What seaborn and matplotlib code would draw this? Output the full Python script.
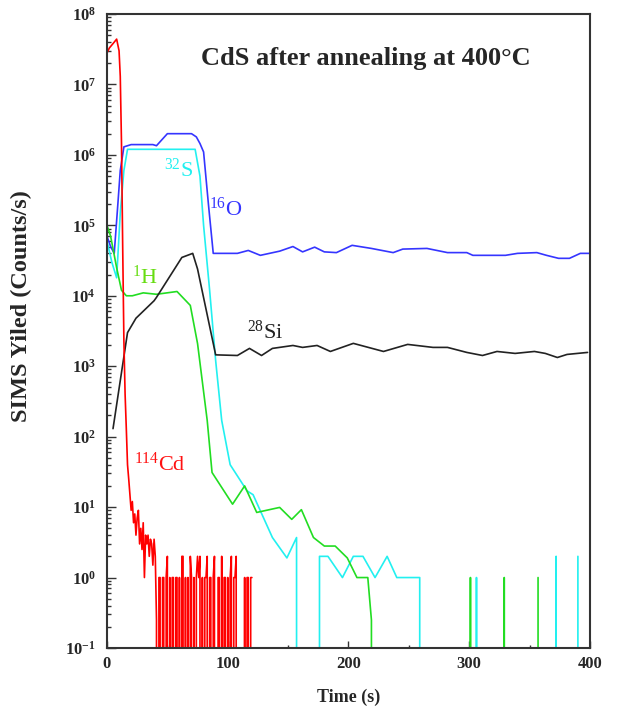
import numpy as np
import pandas as pd
import matplotlib
matplotlib.use("Agg")
import matplotlib.pyplot as plt
import seaborn as sns
from matplotlib.ticker import LogLocator, NullFormatter

# 16O
o_time = [0, 3, 6, 9, 11, 14, 20, 30, 38, 41, 50, 70, 74, 77, 80, 84, 88, 108, 117,
          127, 143, 154, 162, 172, 180, 190, 203, 219, 237, 245, 265, 282, 298, 303,
          330, 340, 356, 364, 374, 383, 392, 400]
o_counts = [7e4, 5e4, 4e4, 2e5, 6e5, 1.3e6, 1.4e6, 1.4e6, 1.4e6, 1.35e6, 2.0e6, 2.0e6,
            1.8e6, 1.45e6, 1.1e6, 2e5, 4.0e4, 4.0e4, 4.4e4, 3.75e4, 4.3e4, 5.0e4, 4.2e4,
            4.9e4, 4.2e4, 4.1e4, 5.2e4, 4.7e4, 4.1e4, 4.6e4, 4.7e4, 4.1e4, 4.1e4, 3.75e4,
            3.75e4, 4.0e4, 4.1e4, 3.75e4, 3.4e4, 3.4e4, 4.0e4, 4.0e4]

# 32S
s_time = [0, 4, 8, 11, 14, 17, 40, 73, 77, 80, 85, 90, 95, 102, 116, 121, 137, 149, 157,
          161, 172, 176, 183, 195, 204, 212, 222, 232, 240, 259, 262, 304, 306, 310,
          368, 372, 375, 387, 390]
s_counts = [6e4, 3e4, 1.8e4, 1.5e5, 6e5, 1.2e6, 1.2e6, 1.2e6, 5e5, 1e5, 1.2e4, 1.2e3, 170,
            40, 17, 15, 3.7, 1.9, 3.7, 0, 0, 2, 2, 1, 2, 2, 1, 2, 1, 1, 0, 0, 1, 0,
            0, 2, 0, 0, 2]

# 1H
h_time = [0, 3, 8, 12, 16, 21, 30, 41, 58, 69, 75, 83, 87, 104, 114, 124, 143, 153, 161,
          171, 180, 189, 199, 207, 216, 219, 221, 298, 301, 304, 326, 329, 332, 354, 357]
h_counts = [1e5, 7e4, 2.5e4, 1.2e4, 1.0e4, 1.0e4, 1.1e4, 1.05e4, 1.15e4, 7.3e3, 2.1e3, 170,
            31, 11, 20, 8.4, 9.9, 6.7, 9.2, 3.7, 2.8, 2.8, 1.9, 1.0, 1.0, 0.25, 0,
            0, 1, 0, 0, 1, 0, 0, 1]

# 28Si
si_time = [5, 17, 24, 39, 41, 62, 71, 75, 90, 108, 118, 128, 137, 154, 162, 174, 185,
           204, 229, 249, 270, 282, 298, 311, 323, 338, 354, 363, 373, 381, 398]
si_counts = [130, 3000, 4800, 8500, 9500, 3.5e4, 4.0e4, 2.4e4, 1450, 1420, 1790, 1420,
             1790, 1970, 1850, 1970, 1620, 2110, 1620, 2040, 1850, 1850, 1570, 1420, 1620,
             1520, 1620, 1520, 1330, 1470, 1570]

# 114Cd
cd_time = [0, 2, 5, 8, 10, 11, 12, 13, 14, 15,
           16, 17, 18, 19, 20, 21, 22, 23, 24, 25, 26, 27, 28, 29, 30, 31, 32, 33, 34, 35,
           36, 37, 38, 39, 40, 41, 42, 43, 44, 45, 46, 47, 48, 49, 50, 51, 52, 53, 54, 55,
           56, 57, 58, 59, 60, 61, 62, 63, 64, 65, 66, 67, 68, 69, 70, 71, 72, 73, 74, 75,
           76, 77, 78, 79, 80, 81, 82, 83, 84, 85, 86, 87, 88, 89, 90, 91, 92, 93, 94, 95,
           96, 97, 98, 99, 100, 101, 102, 103, 104, 105, 106, 107, 108, 109, 110, 111, 112,
           113, 114, 115, 116, 117, 118, 119, 120]
cd_counts = [2.8e7, 3.3e7, 3.8e7, 4.4e7, 3.0e7, 1.3e7, 1.5e6, 5e4, 2.3e3, 400,
             130, 40, 25, 15, 9, 12, 6, 8, 4, 7, 9, 3, 5, 2.5, 6, 1, 4, 3, 4, 2,
             3.5, 3, 1.5, 3.5, 2, 0.25, 0, 1, 1, 0, 1, 1, 0, 1, 2, 0, 1, 0, 1, 1,
             0, 1, 1, 0, 1, 0, 2, 2, 0, 1, 0, 1, 0, 2, 1, 0, 1, 0, 1, 2,
             1, 2, 0, 1, 0, 1, 1, 2, 0, 1, 1, 0, 1, 2, 0, 0, 1, 1, 0, 2,
             0, 1, 1, 0, 1, 0, 1, 2, 0, 1, 1, 2, 0, 0, 0, 0, 0,
             0, 1, 0, 1, 1, 0, 1, 1]

decades = [-1, 0, 1, 2, 3, 4, 5, 6, 7, 8]
x_ticks = [0, 100, 200, 300, 400]

sns.set_theme(style="white")
plt.rcParams["font.family"] = ["Liberation Serif", "DejaVu Serif"]
plt.rcParams["mathtext.fontset"] = "custom"
plt.rcParams["mathtext.rm"] = "Liberation Serif"
plt.rcParams["mathtext.it"] = "Liberation Serif:italic"
plt.rcParams["mathtext.bf"] = "Liberation Serif:bold"

fig = plt.figure(figsize=(6.17, 7.18), dpi=100)
ax = fig.add_axes([0.1734, 0.0975, 0.7828, 0.883])

series = [
    (o_time, o_counts, "#3535ff"),
    (s_time, s_counts, "#22f0f0"),
    (h_time, h_counts, "#22dd22"),
    (si_time, si_counts, "#222222"),
    (cd_time, cd_counts, "#ff0000"),
]
for t, c, col in series:
    df = pd.DataFrame({"Time": t, "Counts": c})
    sns.lineplot(data=df, x="Time", y="Counts", color=col, lw=1.2,
                 estimator=None, sort=False, ax=ax)

ax.set_yscale("log")
ax.set_ylim(1e-1, 1e8)
ax.set_xlim(0, 400)

ax.set_yticks([10.0 ** e for e in decades],
              labels=[r"$\mathbf{10^{%d}}$" % e for e in decades], fontsize=12)
ax.yaxis.set_minor_locator(LogLocator(base=10, subs=np.arange(2, 10), numticks=20))
ax.yaxis.set_minor_formatter(NullFormatter())
ax.set_xticks(x_ticks, labels=[str(v) for v in x_ticks], fontsize=12, fontweight="bold")
ax.set_xticks([50, 150, 250, 350], minor=True)

ax.tick_params(axis="both", which="both", direction="in", top=False, right=False,
               left=True, bottom=True, color="#333333", width=1)
ax.tick_params(axis="y", which="major", length=6.5, pad=8)
ax.tick_params(axis="y", which="minor", length=3.2)
ax.tick_params(axis="x", which="major", length=5, pad=6)
ax.tick_params(axis="x", which="minor", length=2.2)
for sp in ax.spines.values():
    sp.set_linewidth(1.5)
    sp.set_color("#333333")

ax.set_xlabel("Time (s)", fontsize=13, fontweight="bold", labelpad=12)
ax.set_ylabel("SIMS Yiled (Counts/s)", fontsize=17.5, fontweight="bold")
ax.yaxis.set_label_coords(-0.155, 0.54)

ax.text(214, 2.3e7, "CdS after annealing at 400°C", fontsize=19, fontweight="bold",
        ha="center", va="center")
ax.text(59, 6e5, r"$^{32}$S", color="#22f0f0", fontsize=16, ha="center", va="center")
ax.text(98, 1.7e5, r"$^{16}$O", color="#3535ff", fontsize=16, ha="center", va="center")
ax.text(31, 1.85e4, r"$^{1}$H", color="#66dd11", fontsize=16, ha="center", va="center")
ax.text(131, 3.0e3, r"$^{28}$Si", color="#222222", fontsize=16, ha="center", va="center")
ax.text(44, 40, r"$^{114}$Cd", color="#ff1111", fontsize=16, ha="center", va="center")

fig.savefig("out.png", dpi=100)
